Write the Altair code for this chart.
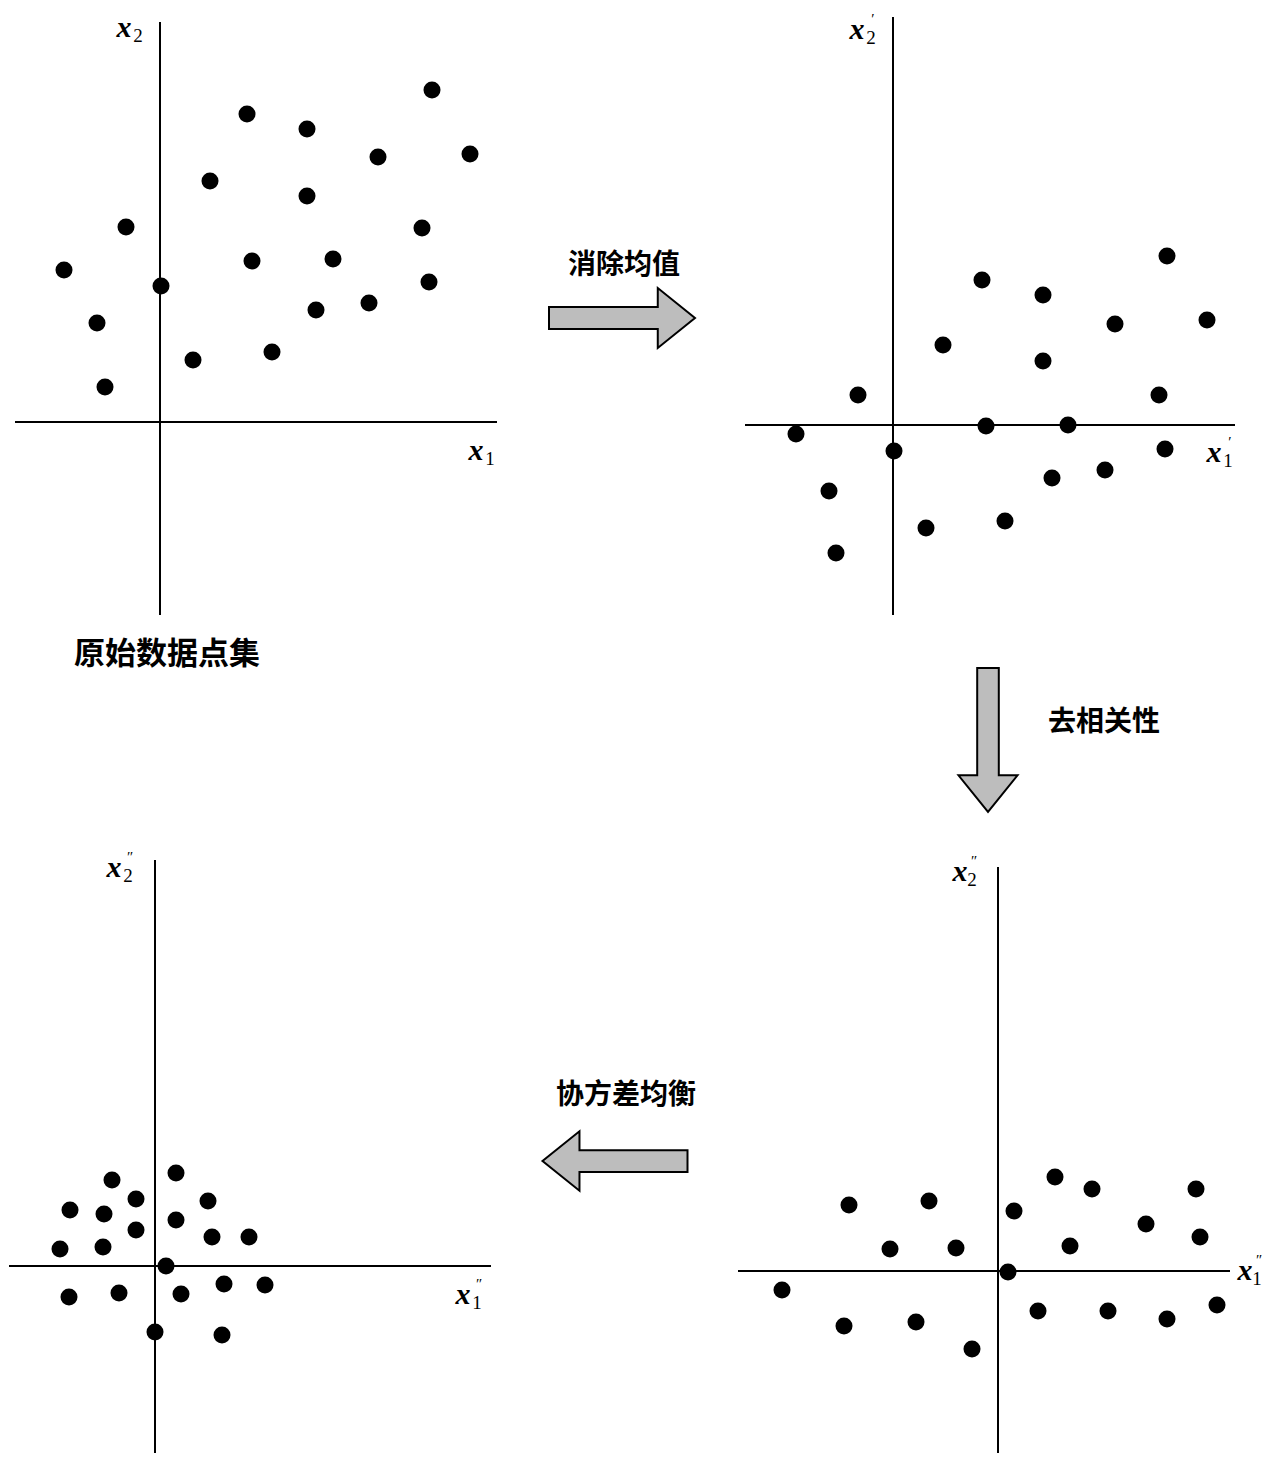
import altair as alt
import pandas as pd

# ---------------- data (values relative to each panel's axis origin, y up) ----------------
# Panel 1: original data points (x1, x2)
p1_x = [272, 87, 147, 310, 218, 50, 147, -34, 262, -96, 92, 173, 1, 269, -63, 156, 209, 112, 33, -55]
p1_y = [332, 308, 293, 268, 265, 241, 226, 195, 194, 152, 161, 163, 136, 140, 99, 112, 119, 70, 62, 35]
# Panel 2: mean removed (x1', x2')
p2_x = [274, 89, 150, 222, 314, 50, 150, -35, 266, -97, 93, 175, 1, 272, -64, 159, 212, 112, 33, -57]
p2_y = [169, 145, 130, 101, 105, 80, 64, 30, 30, -9, -1, 0, -26, -24, -66, -53, -45, -96, -103, -128]
# Panel 3: covariance equalised (x1'', x2'')
p3_x = [21, -43, -19, 53, -85, -51, 21, -19, 57, 94, -95, -52, 11, -86, -36, 26, 69, 110, 0, 67]
p3_y = [93, 86, 67, 65, 56, 52, 46, 36, 29, 29, 17, 19, 0, -31, -27, -28, -18, -19, -66, -69]
# Panel 4: decorrelated (x1'', x2'')
p4_x = [57, 94, 198, -149, -69, 16, 148, 202, -108, -42, 72, 10, -216, -154, -82, -26, 40, 110, 169, 219]
p4_y = [94, 82, 82, 66, 70, 60, 47, 34, 22, 23, 25, -1, -19, -55, -51, -78, -40, -40, -48, -34]

panel_names = ["original", "centered", "equalized", "decorrelated"]
step_texts = ["消除均值", "去相关性", "协方差均衡"]
caption_text = "原始数据点集"

# ---------------- layout ----------------
W, H = 1256, 1445
OFF = 8
origins = {"original": (160, 422), "centered": (893, 425),
           "equalized": (155, 1266), "decorrelated": (998, 1271)}
# (left, right, down, up) extents of the drawn axes
extents = {"original": (-145, 337, -193, 400), "centered": (-148, 342, -190, 408),
           "equalized": (-146, 336, -195, 406), "decorrelated": (-260, 232, -190, 404)}
# label offsets from origin for the vertical-axis and horizontal-axis labels
axis_labels = {
    "original": dict(v=(-36, 394), h=(316, -29), prime="", sub=14),
    "centered": dict(v=(-36, 395), h=(321, -28), prime="′", sub=14),
    "equalized": dict(v=(-41, 398), h=(308, -29), prime="″", sub=14),
    "decorrelated": dict(v=(-38, 399), h=(247, 0), prime="″", sub=12),
}

pts_rel = {"original": (p1_x, p1_y), "centered": (p2_x, p2_y),
           "equalized": (p3_x, p3_y), "decorrelated": (p4_x, p4_y)}

rows = []
for name in panel_names:
    ox, oy = origins[name]
    xs, ys = pts_rel[name]
    for a, b in zip(xs, ys):
        rows.append({"panel": name, "X": ox + a, "Y": oy - b})
points = pd.DataFrame(rows)

axis_rows = []
for name in panel_names:
    ox, oy = origins[name]
    l, r, d, u = extents[name]
    axis_rows.append({"X": ox + l, "X2": ox + r, "Y": oy, "Y2": oy})
    axis_rows.append({"X": ox, "X2": ox, "Y": oy - u, "Y2": oy - d})
axes = pd.DataFrame(axis_rows)

letters, subs, primes = [], [], []
for name in panel_names:
    ox, oy = origins[name]
    lab = axis_labels[name]
    for key, idx in (("v", "2"), ("h", "1")):
        dx, dy = lab[key]
        X, Y = ox + dx, oy - dy
        letters.append({"X": X, "Y": Y, "t": "x"})
        subs.append({"X": X + lab["sub"], "Y": Y + 8, "t": idx})
        if lab["prime"]:
            primes.append({"X": X + lab["sub"] + 2, "Y": Y - 11, "t": lab["prime"]})
letters = pd.DataFrame(letters)
subs = pd.DataFrame(subs)
primes = pd.DataFrame(primes)

ARROW = "M-1,-0.15L0.49,-0.15L0.49,-0.41L1,0L0.49,0.41L0.49,0.15L-1,0.15Z"
arrows = pd.DataFrame([
    {"X": 622, "Y": 318, "angle": 0, "size": 146 ** 2},
    {"X": 988, "Y": 740, "angle": 90, "size": 144 ** 2},
    {"X": 615, "Y": 1161, "angle": 180, "size": 145 ** 2},
])
step_labels = pd.DataFrame([
    {"X": 624, "Y": 266, "t": step_texts[0]},
    {"X": 1104, "Y": 723, "t": step_texts[1]},
    {"X": 626, "Y": 1096, "t": step_texts[2]},
])
caption = pd.DataFrame([{"X": 167, "Y": 655, "t": caption_text}])

xs = alt.Scale(domain=[OFF, OFF + W], nice=False, zero=False)
ys = alt.Scale(domain=[OFF, OFF + H], nice=False, zero=False, reverse=True)
X = alt.X("X:Q", scale=xs, axis=None)
Y = alt.Y("Y:Q", scale=ys, axis=None)

axis_layer = alt.Chart(axes).mark_rule(color="black", strokeWidth=2).encode(
    x=X, y=Y, x2="X2:Q", y2="Y2:Q")
point_layer = alt.Chart(points).mark_circle(color="black", opacity=1, size=290).encode(x=X, y=Y)
arrow_layer = alt.Chart(arrows).mark_point(
    shape=ARROW, filled=True, fill="#bdbdbd", stroke="black", strokeWidth=2, opacity=1
).encode(x=X, y=Y, angle=alt.Angle("angle:Q", scale=None), size=alt.Size("size:Q", scale=None))
step_layer = alt.Chart(step_labels).mark_text(
    font="Noto Sans CJK SC", fontSize=28, fontWeight="bold", color="black",
    align="center", baseline="middle").encode(x=X, y=Y, text="t:N")
caption_layer = alt.Chart(caption).mark_text(
    font="Noto Sans CJK SC", fontSize=31, fontWeight="bold", color="black",
    align="center", baseline="middle").encode(x=X, y=Y, text="t:N")
letter_layer = alt.Chart(letters).mark_text(
    font="Liberation Serif", fontSize=30, fontStyle="italic", fontWeight="bold", color="black",
    align="center", baseline="middle").encode(x=X, y=Y, text="t:N")
sub_layer = alt.Chart(subs).mark_text(
    font="Liberation Serif", fontSize=19, color="black",
    align="center", baseline="middle").encode(x=X, y=Y, text="t:N")
prime_layer = alt.Chart(primes).mark_text(
    font="Liberation Serif", fontSize=15, color="black",
    align="center", baseline="middle").encode(x=X, y=Y, text="t:N")

chart = alt.layer(axis_layer, point_layer, arrow_layer, step_layer, caption_layer,
                  letter_layer, sub_layer, prime_layer).properties(
    width=W, height=H, padding=0, autosize=alt.AutoSizeParams(type="none")
).configure_view(stroke=None)

chart.save("out.html", embed_options={"renderer": "svg", "actions": False})
